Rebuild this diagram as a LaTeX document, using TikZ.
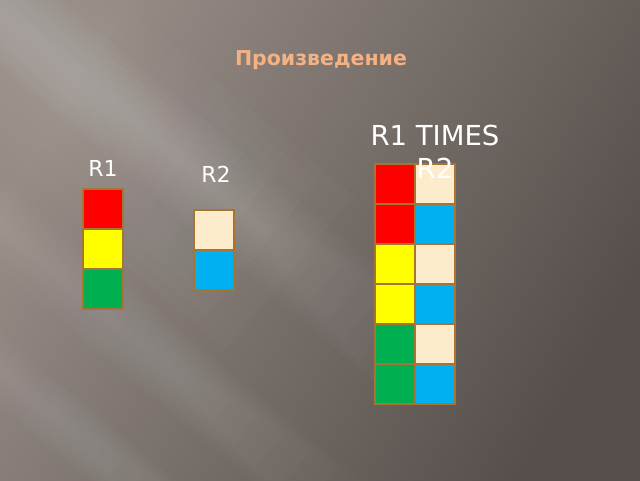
\documentclass[tikz,border=0pt]{standalone}
\usepackage{fontspec}
\setmainfont{DejaVu Sans}
\definecolor{bgA}{RGB}{150,140,134}
\definecolor{bgB}{RGB}{86,79,75}
\definecolor{cellborder}{RGB}{168,116,52}
\definecolor{cred}{RGB}{255,0,0}
\definecolor{cyellow}{RGB}{255,255,0}
\definecolor{cgreen}{RGB}{0,176,80}
\definecolor{ccream}{RGB}{253,236,204}
\definecolor{cblue}{RGB}{0,176,240}
\definecolor{ctitle}{RGB}{244,177,131}
% #1,#2 centre point, #3 half width, #4 forward length, #5 opacity per layer
\newcommand\bgstreak[5]{%
  \begin{scope}[shift={(#1,#2)},rotate=-40]
    \foreach \f in {1,0.875,0.75,0.625,0.5,0.375,0.25,0.125}{
      \fill[white,opacity=#5] (-900,-\f*#3) rectangle (\f*#4,\f*#3);
    }
  \end{scope}}
\begin{document}
\begin{tikzpicture}[x=1pt,y=1pt,
  cell/.style={draw=cellborder,line width=1.4pt,minimum size=40pt,inner sep=0pt,outer sep=0pt},
  lbl/.style={text=white,inner sep=0pt,font=\fontsize{22}{26}\selectfont},
  titlelbl/.style={text=ctitle,inner sep=0pt,font=\bfseries\fontsize{20.5}{24}\selectfont}]
\useasboundingbox (0,0) rectangle (640,480);
% background
\begin{scope}
  \clip (0,0) rectangle (640,480);
  \shade[top color=bgA,bottom color=bgB,shading angle=60] (0,0) rectangle (640,480);
  \bgstreak{60}{400}{100}{300}{0.016}
  \bgstreak{250}{262}{45}{200}{0.018}
  \bgstreak{150}{130}{35}{250}{0.016}
  \bgstreak{60}{60}{28}{200}{0.014}
\end{scope}
% title
\node[titlelbl,anchor=base] (title) at (321,414) {Произведение};
% R1
\node[lbl,anchor=base] (r1lbl) at (103,303) {R1};
\node[cell,fill=cred]    (r1a) at (103,271) {};
\node[cell,fill=cyellow] (r1b) at (103,231) {};
\node[cell,fill=cgreen]  (r1c) at (103,191) {};
% R2
\node[lbl,anchor=base] (r2lbl) at (216,297) {R2};
\node[cell,fill=ccream] (r2a) at (214,250) {};
\node[cell,fill=cblue]  (r2b) at (214,210) {};
% product
\node[cell,fill=cred]    (p1a) at (395,296) {};
\node[cell,fill=ccream]  (p1b) at (435,296) {};
\node[cell,fill=cred]    (p2a) at (395,256) {};
\node[cell,fill=cblue]   (p2b) at (435,256) {};
\node[cell,fill=cyellow] (p3a) at (395,216) {};
\node[cell,fill=ccream]  (p3b) at (435,216) {};
\node[cell,fill=cyellow] (p4a) at (395,176) {};
\node[cell,fill=cblue]   (p4b) at (435,176) {};
\node[cell,fill=cgreen]  (p5a) at (395,136) {};
\node[cell,fill=ccream]  (p5b) at (435,136) {};
\node[cell,fill=cgreen]  (p6a) at (395,96)  {};
\node[cell,fill=cblue]   (p6b) at (435,96)  {};
\node[lbl,font=\fontsize{27.5}{33}\selectfont,align=center,anchor=base] (plbl) at (435,301) {R1 TIMES\\R2};
\end{tikzpicture}
\end{document}
